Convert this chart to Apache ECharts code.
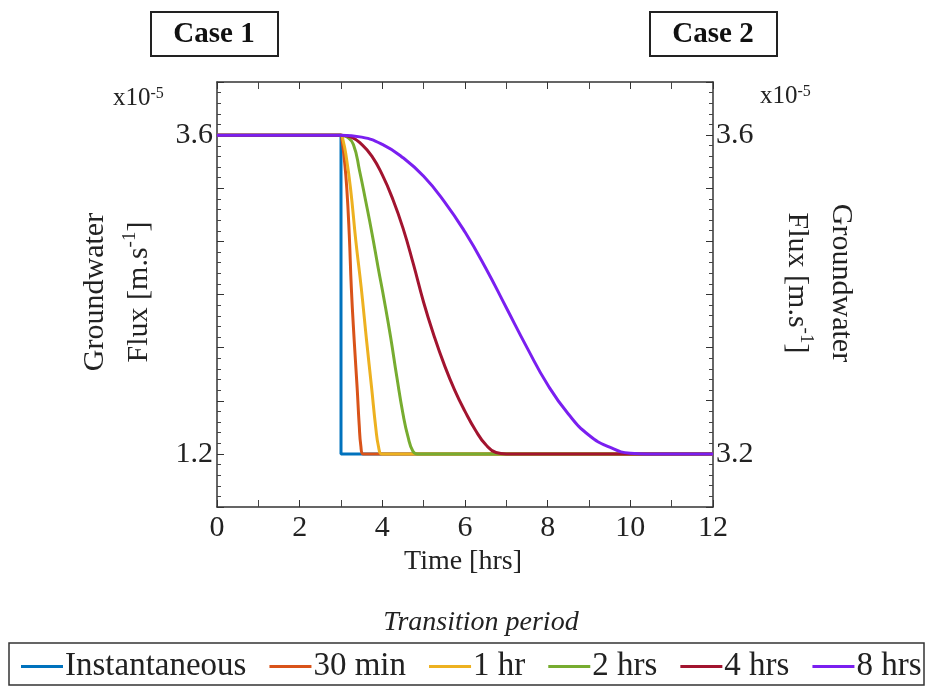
<!doctype html>
<html>
<head>
<meta charset="utf-8">
<title>Groundwater flux</title>
<script src="https://cdn.jsdelivr.net/npm/echarts@6/dist/echarts.min.js"></script>
<style>
html,body{margin:0;padding:0;background:#fff;}
#chart{width:928px;height:688px;}
</style>
</head>
<body>
<div id="chart"></div>
<script>
// legend names and colours
var names = ['Instantaneous', '30 min', '1 hr', '2 hrs', '4 hrs', '8 hrs'];
var colors = ['#0072bd', '#d95319', '#edb120', '#77ac30', '#a2142f', '#7a1ff0'];

// time [hrs] / flux [x10^-5 m/s]
var tInst = [0, 3, 3, 12];
var fInst = [3.6, 3.6, 1.2, 1.2];
var t30 = [0, 2.9, 3, 3.03, 3.08, 3.14, 3.2, 3.25, 3.32, 3.39, 3.44, 3.48, 3.53, 3.6, 12];
var f30 = [3.6, 3.6, 3.6, 3.55, 3.42, 3.2, 2.85, 2.45, 2.05, 1.7, 1.42, 1.26, 1.2, 1.2, 1.2];
var t1h = [0, 2.9, 3, 3.05, 3.12, 3.23, 3.36, 3.49, 3.62, 3.74, 3.84, 3.91, 3.98, 4.1, 12];
var f1h = [3.6, 3.6, 3.6, 3.56, 3.45, 3.2, 2.8, 2.45, 2.05, 1.7, 1.4, 1.25, 1.2, 1.2, 1.2];
var t2h = [0, 2.9, 3, 3.15, 3.3, 3.45, 3.6, 3.75, 3.9, 4.05, 4.2, 4.35, 4.5, 4.62, 4.74, 4.85, 5.0, 12];
var f2h = [3.6, 3.6, 3.6, 3.585, 3.53, 3.33, 3.1, 2.86, 2.6, 2.35, 2.08, 1.78, 1.5, 1.33, 1.22, 1.2, 1.2, 1.2];
var t4h = [0, 2.8, 3, 3.25, 3.5, 3.75, 4.0, 4.25, 4.5, 4.75, 5.0, 5.25, 5.5, 5.75, 6.0, 6.25, 6.5, 6.75, 7.0, 7.3, 12];
var f4h = [3.6, 3.6, 3.6, 3.585, 3.53, 3.44, 3.3, 3.12, 2.9, 2.63, 2.34, 2.09, 1.87, 1.68, 1.52, 1.38, 1.27, 1.21, 1.2, 1.2, 1.2];
var t8h = [0, 2.8, 3, 3.5, 4.0, 4.5, 5.0, 5.5, 6.0, 6.5, 7.0, 7.5, 8.0, 8.5, 9.0, 9.5, 10.0, 10.4, 10.8, 12];
var f8h = [3.6, 3.6, 3.6, 3.585, 3.53, 3.43, 3.29, 3.1, 2.87, 2.6, 2.3, 2.0, 1.72, 1.5, 1.34, 1.25, 1.205, 1.2, 1.2, 1.2];

// tick labels that are shown
var leftLabels = ['1.2', '3.6'];
var rightLabels = ['3.2', '3.6'];

var font = "'Liberation Serif', 'Times New Roman', serif";
var txt = '#222';
var gridW = 928 - 217 - 215;
var gridH = 688 - 82 - 181;

function pairs(t, f) {
	var out = [];
	for (var i = 0; i < t.length; i++) out.push([t[i], f[i]]);
	return out;
}
var allT = [tInst, t30, t1h, t2h, t4h, t8h];
var allF = [fInst, f30, f1h, f2h, f4h, f8h];

var series = [];
for (var i = 0; i < names.length; i++) {
	series.push({
		name: names[i],
		type: 'line',
		data: pairs(allT[i], allF[i]),
		smooth: i == 0 ? false : 0.5,
		symbol: 'none',
		lineStyle: { color: colors[i], width: 3 },
		itemStyle: { color: colors[i] },
		z: 2 + i
	});
}

var axLine = { onZero: false, lineStyle: { color: '#333', width: 1.5 } };

function pickLabel(list) {
	return function (v) {
		var s = (Math.round(v * 10) / 10).toFixed(1);
		return (list.indexOf(s) >= 0 && Math.abs(v - parseFloat(s)) < 1e-6) ? s : '';
	};
}

// an axis that only draws ticks, put on the opposite edge so they point into the plot
function tickAxis(base, pos, off, minorSplit, minorLen) {
	return Object.assign({}, base, {
		position: pos, offset: off,
		axisLine: { show: false, onZero: false },
		axisTick: { show: true, length: 7, lineStyle: { color: '#333' } },
		minorTick: { show: true, splitNumber: minorSplit, length: minorLen, lineStyle: { color: '#444' } },
		axisLabel: { show: false },
		splitLine: { show: false }
	});
}

var xBase = { type: 'value', min: 0, max: 12, interval: 2 };
var yLeftBase = { type: 'value', min: 0.8, max: 4.0, interval: 0.4 };
var yRightBase = { type: 'value', min: 47 / 15, max: 55 / 15, interval: 1 / 15 };

var supRich = {
	a: { fontFamily: font, fontSize: 30, fill: txt, lineHeight: 44, verticalAlign: 'bottom' },
	s: { fontFamily: font, fontSize: 19, fill: txt, lineHeight: 44, verticalAlign: 'bottom', padding: [0, 0, 14, 0] }
};

var chart = echarts.init(document.getElementById('chart'));
chart.setOption({
	animation: false,
	backgroundColor: '#fff',
	grid: { left: 217, right: 215, top: 82, bottom: 181 },
	xAxis: [
		Object.assign({}, xBase, {
			position: 'bottom',
			axisLine: axLine,
			axisTick: { show: false },
			axisLabel: { fontFamily: font, fontSize: 30, color: txt, margin: 6 },
			splitLine: { show: false }
		}),
		Object.assign({}, xBase, {
			position: 'top',
			axisLine: axLine,
			axisTick: { show: false },
			axisLabel: { show: false },
			splitLine: { show: false }
		}),
		tickAxis(xBase, 'top', -gridH, 2, 7),
		tickAxis(xBase, 'bottom', -gridH, 2, 7)
	],
	yAxis: [
		Object.assign({}, yLeftBase, {
			position: 'left',
			axisLine: axLine,
			axisTick: { show: false },
			axisLabel: { fontFamily: font, fontSize: 30, color: txt, margin: 4, formatter: pickLabel(leftLabels) },
			splitLine: { show: false }
		}),
		Object.assign({}, yRightBase, {
			position: 'right',
			axisLine: axLine,
			axisTick: { show: false },
			axisLabel: { fontFamily: font, fontSize: 30, color: txt, margin: 3, formatter: pickLabel(rightLabels) },
			splitLine: { show: false }
		}),
		tickAxis(yLeftBase, 'right', -gridW, 5, 4),
		tickAxis(yRightBase, 'left', -gridW, 5, 4)
	],
	legend: {
		data: names,
		left: 16, top: 645,
		icon: 'rect', itemWidth: 42, itemHeight: 3, itemGap: 23,
		textStyle: { fontFamily: font, fontSize: 33, color: txt, padding: [0, 0, 0, -3] }
	},
	series: series,
	graphic: [
		{ type: 'rect', shape: { x: 151, y: 12, width: 127, height: 44 }, style: { fill: 'none', stroke: '#222', lineWidth: 2 } },
		{ type: 'text', x: 214, y: 35, style: { text: 'Case 1', font: 'bold 29px ' + font, fill: '#111', align: 'center', verticalAlign: 'middle' } },
		{ type: 'rect', shape: { x: 650, y: 12, width: 127, height: 44 }, style: { fill: 'none', stroke: '#222', lineWidth: 2 } },
		{ type: 'text', x: 713, y: 35, style: { text: 'Case 2', font: 'bold 29px ' + font, fill: '#111', align: 'center', verticalAlign: 'middle' } },
		{ type: 'text', x: 113, y: 98, style: {
			text: '{a|x10}{s|-5}', verticalAlign: 'middle',
			rich: { a: { fontFamily: font, fontSize: 25, fill: txt, verticalAlign: 'bottom' }, s: { fontFamily: font, fontSize: 16, fill: txt, verticalAlign: 'top' } }
		} },
		{ type: 'text', x: 760, y: 96, style: {
			text: '{a|x10}{s|-5}', verticalAlign: 'middle',
			rich: { a: { fontFamily: font, fontSize: 25, fill: txt, verticalAlign: 'bottom' }, s: { fontFamily: font, fontSize: 16, fill: txt, verticalAlign: 'top' } }
		} },
		{ type: 'text', x: 110, y: 292, rotation: Math.PI / 2, style: {
			text: '{a|Groundwater}\n{a|Flux [m.s}{s|-1}{a|]}', align: 'center', verticalAlign: 'middle', rich: supRich
		} },
		{ type: 'text', x: 826, y: 283, rotation: -Math.PI / 2, style: {
			text: '{a|Groundwater}\n{a|Flux [m.s}{s|-1}{a|]}', align: 'center', verticalAlign: 'middle', rich: supRich
		} },
		{ type: 'text', x: 463, y: 562, style: { text: 'Time [hrs]', font: '28px ' + font, fill: txt, align: 'center', verticalAlign: 'middle' } },
		{ type: 'text', x: 481, y: 623, style: { text: 'Transition period', font: 'italic 28px ' + font, fill: txt, align: 'center', verticalAlign: 'middle' } },
		{ type: 'rect', shape: { x: 9, y: 643, width: 915, height: 42 }, style: { fill: 'none', stroke: '#333', lineWidth: 1.5 } }
	]
});
</script>
</body>
</html>
